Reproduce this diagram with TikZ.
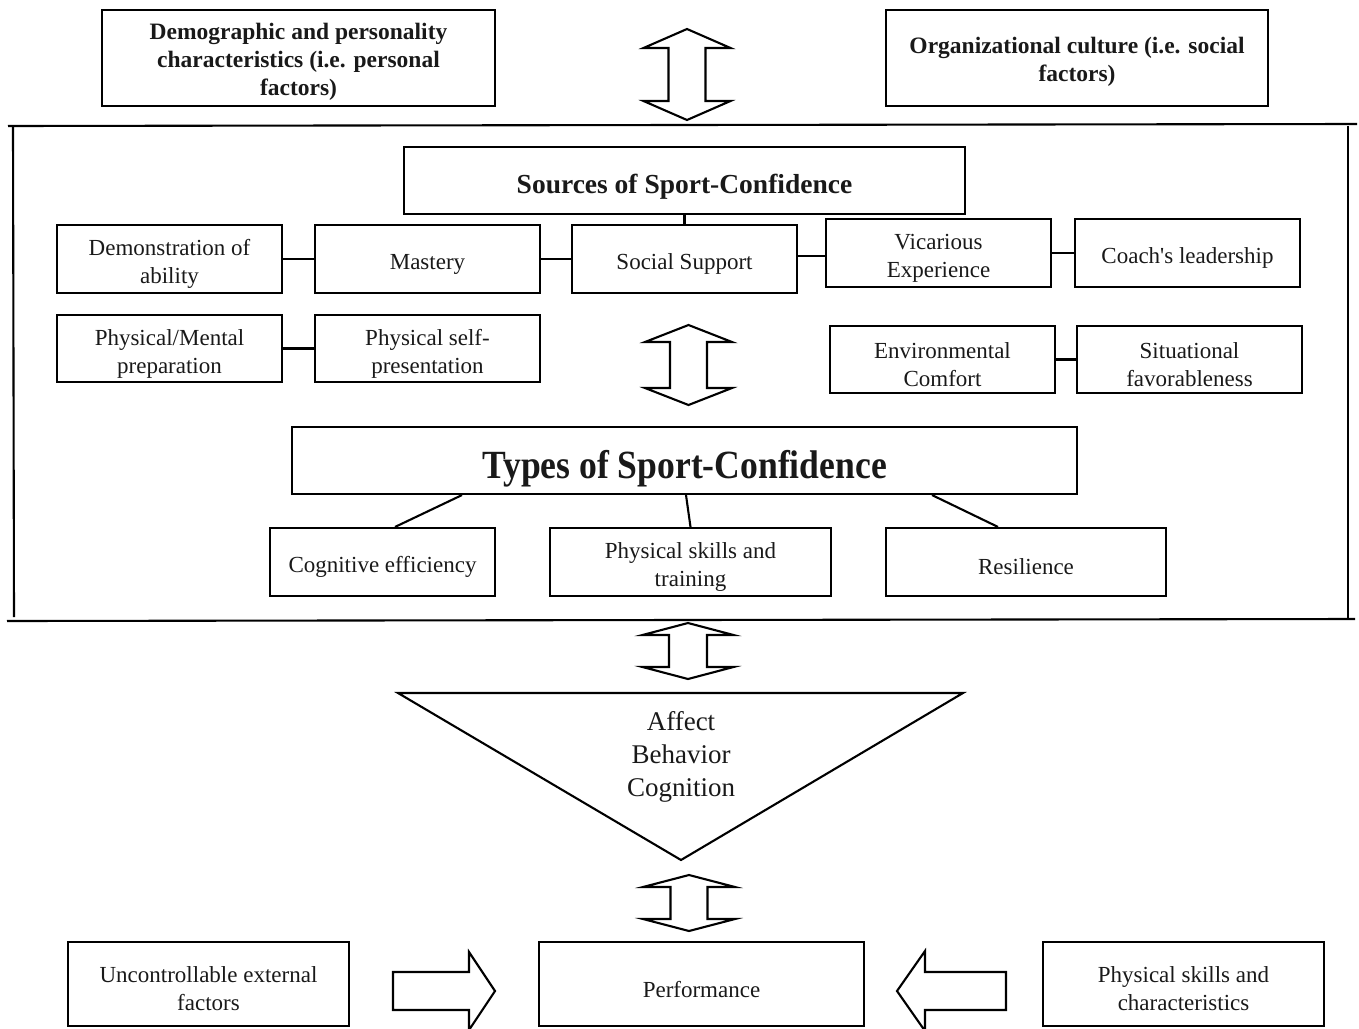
\documentclass[tikz,border=0pt]{standalone}
\usepackage{fontspec}
\setmainfont{Liberation Serif}[Ligatures=TeXOff]
\usepackage{graphicx}
\newcommand\dblarrow[7]{%
  \draw[shapeline] (#1,#2) -- (#1+#6,#3) -- (#1+#7,#3) -- (#1+#7,#4) -- (#1+#6,#4) -- (#1,#5)
    -- (#1-#6,#4) -- (#1-#7,#4) -- (#1-#7,#3) -- (#1-#6,#3) -- cycle;}
% box with separately placed text: [text opts]{name}{centre}{width}{height}{text}
\newcommand\bx[6][]{%
  \node[box, minimum width=#4pt, minimum height=#5pt] (#2) at (#3) {};
  \node[lab, #1] (#2t) at (#2) {#6};}
\begin{document}
\begin{tikzpicture}[x=1pt,y=-1pt,
  shapeline/.style={line width=2.1pt, line join=miter},
  box/.style={draw, line width=2.1pt, inner sep=0pt},
  lab/.style={align=center, inner sep=0pt, text=black!90, yshift=-5pt,
    font=\fontsize{23}{28}\selectfont},
  blab/.style={font=\fontsize{23.5}{28}\selectfont\bfseries, yshift=1pt},
  conn/.style={line width=2.1pt}]
\useasboundingbox (0,0) rectangle (1359,1028);

% top factor boxes
\bx[blab]{demog}{298.5,58}{393}{96}{Demographic and personality\\characteristics (i.e. personal\\factors)}
\bx[blab]{org}{1077,58}{382}{96}{Organizational culture (i.e. social\\factors)}

% big frame
\draw[conn] (8,126) -- (1357,124);
\draw[conn] (13,127) -- (14,617);
\draw[conn] (7,621) -- (1355,619);
\draw[conn] (1348,126) -- (1348,620);

% sources
\bx[font=\fontsize{27.5}{30}\selectfont\bfseries, yshift=-1pt]{sources}{684.5,180.5}{561}{67}{Sources of Sport-Confidence}
\bx{demo}{169.5,259}{225}{68}{Demonstration of\\ability}
\bx{mastery}{427.5,259}{225}{68}{Mastery}
\bx{social}{684.5,259}{225}{68}{Social Support}
\bx{vicar}{938.5,253}{225}{68}{Vicarious\\Experience}
\bx{coach}{1187.5,253}{225}{68}{Coach's leadership}
\bx{physmen}{169.5,348.5}{225}{67}{Physical/Mental\\preparation}
\bx{physself}{427.5,348.5}{225}{67}{Physical self-\\presentation}
\bx{env}{942.5,359.5}{225}{67}{Environmental\\Comfort}
\bx{situ}{1189.5,359.5}{225}{67}{Situational\\favorableness}

\draw[conn] (sources.south) -- (social.north);
\draw[conn] (demo.east) -- (mastery.west);
\draw[conn] (mastery.east) -- (social.west);
\draw[conn] ([yshift=3pt]social.east) -- ([yshift=-3pt]vicar.west);
\draw[conn] (vicar.east) -- (coach.west);
\draw[conn] (physmen.east) -- (physself.west);
\draw[conn] (env.east) -- (situ.west);

% types
\bx[font=\fontsize{40}{44}\selectfont\bfseries, yshift=-3pt]{types}{684.5,460.5}{785}{67}{\scalebox{0.89}[1]{Types of Sport-Confidence}}
\bx{cog}{382.5,562}{225}{68}{Cognitive efficiency}
\bx{phys}{690.5,562}{281}{68}{Physical skills and\\training}
\bx{resil}{1026,562}{280}{68}{Resilience}
\draw[conn] ([xshift=-222.5pt]types.south) -- ([xshift=12.5pt]cog.north);
\draw[conn] ([xshift=1.5pt]types.south) -- (phys.north);
\draw[conn] ([xshift=247.5pt]types.south) -- ([xshift=-28pt]resil.north);

% double arrows
\dblarrow{687}{29}{48}{101}{120}{43.5}{18.5}
\dblarrow{688.5}{325}{342}{388}{405}{43.5}{18.5}
\dblarrow{688}{623}{635}{667}{679}{45.5}{19}
\dblarrow{689}{875}{887}{919}{931}{46}{18.5}

% triangle
\coordinate (tl) at (398,693);
\coordinate (tr) at (963,693);
\coordinate (tb) at (681,860);
\draw[shapeline] (tl) -- (tr) -- (tb) -- cycle;
\node[lab, font=\fontsize{27}{33}\selectfont, yshift=2pt] (abc) at (681,754) {Affect\\Behavior\\Cognition};

% bottom row
\bx{uncont}{208.5,984}{281}{84}{Uncontrollable external\\factors}
\bx{perf}{701.5,984}{325}{84}{Performance}
\bx{physchar}{1183.5,984}{281}{84}{Physical skills and\\characteristics}

\draw[shapeline] (393,972) -- (469,972) -- (469,952) -- (495,991) -- (469,1030) -- (469,1010) -- (393,1010) -- cycle;
\draw[shapeline] (1006,972) -- (925,972) -- (925,951) -- (897,991) -- (925,1031) -- (925,1010) -- (1006,1010) -- cycle;
\end{tikzpicture}
\end{document}
